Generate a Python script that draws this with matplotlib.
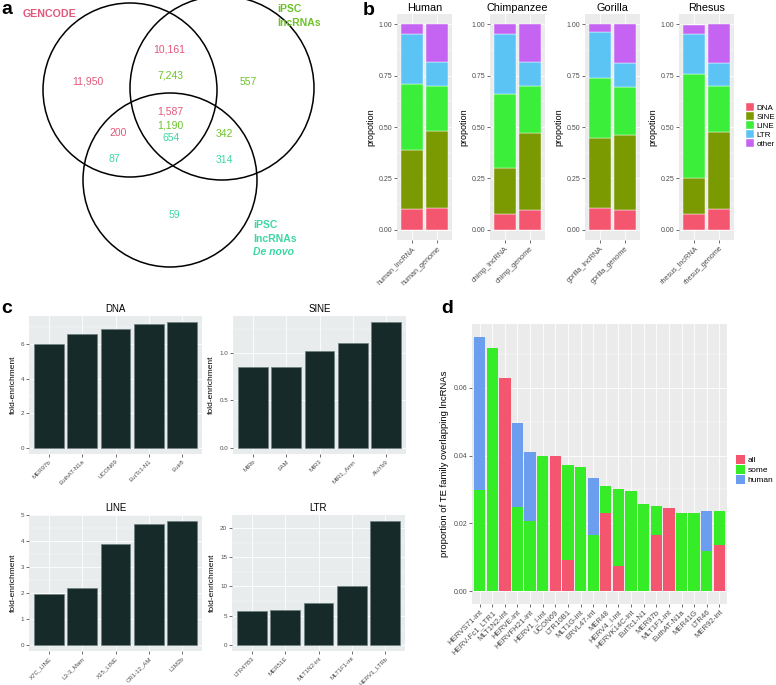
import matplotlib
matplotlib.use("Agg")
import matplotlib.pyplot as plt
from matplotlib.patches import Circle, Patch
from matplotlib.ticker import AutoMinorLocator
import numpy as np

W, H = 776, 685
plt.rcParams['font.family'] = ['Liberation Sans', 'DejaVu Sans']

# ---------------- panel a: venn counts
venn_counts = [11950, 10161, 7243, 557, 1587, 1190, 654, 200, 342, 87, 314, 59]
venn_groups = ["gencode", "gencode", "ipsc", "ipsc", "gencode", "ipsc", "denovo",
               "gencode", "ipsc", "denovo", "denovo", "denovo"]

# ---------------- panel b: TE class proportions (DNA, SINE, LINE, LTR, other)
species = ["Human", "Chimpanzee", "Gorilla", "Rhesus"]
sample_prefix = ["human", "chimp", "gorilla", "rhesus"]
te_classes = ["DNA", "SINE", "LINE", "LTR", "other"]
human_lncrna = [0.102, 0.285, 0.322, 0.242, 0.049]
human_genome = [0.106, 0.374, 0.220, 0.116, 0.184]
chimp_lncrna = [0.076, 0.226, 0.360, 0.291, 0.047]
chimp_genome = [0.098, 0.375, 0.226, 0.117, 0.184]
gorilla_lncrna = [0.106, 0.341, 0.293, 0.224, 0.036]
gorilla_genome = [0.098, 0.365, 0.233, 0.117, 0.187]
rhesus_lncrna = [0.075, 0.179, 0.504, 0.195, 0.042]
rhesus_genome = [0.101, 0.375, 0.223, 0.114, 0.187]

# ---------------- panel c: fold enrichment
dna_names = ["MER97b", "EuthAT-N1a", "UCON69", "EutTc1-N1", "Eutr8"]
dna_fold = [6.04, 6.58, 6.91, 7.18, 7.28]
sine_names = ["MIRb", "FAM", "MIR3", "MIR1_Amn", "AluYb9"]
sine_fold = [0.854, 0.854, 1.02, 1.10, 1.32]
line_names = ["X7C_LINE", "L3-3_Mam", "X15_LINE", "CR1-12_AM", "L1M2b"]
line_fold = [1.96, 2.18, 3.91, 4.69, 4.78]
ltr_names = ["LTR47B3", "MER51E", "MLT1N2-int", "MLT1F1-int", "HERV1_LTRb"]
ltr_fold = [5.8, 6.03, 7.1, 10.0, 21.2]

# ---------------- panel d: proportion of TE family overlapping lncRNAs
d_names = ["HERVS71-int", "HERV-Fc1_LTR1", "MLT1N2-int", "HERVE-int", "HERVFH21-int",
           "HERV1_I-int", "UCON69", "LTR10B1", "MLT1G-int", "ERVL47-int", "MER48",
           "HERV4_I-int", "HERVK14C-int", "EutTc1-N1", "MER97b", "MLT1F1-int",
           "EuthAT-N1a", "MER41G", "LTR46", "MER92-int"]
d_all = [0, 0, 0.0627, 0, 0, 0, 0.040, 0.0093, 0, 0, 0.0232, 0.0075, 0, 0,
         0.0167, 0.0244, 0, 0, 0, 0.0135]
d_some = [0.0299, 0.0718, 0, 0.0247, 0.0206, 0.040, 0, 0.0279, 0.0365, 0.0167,
          0.0078, 0.0227, 0.0294, 0.0257, 0.0084, 0, 0.0231, 0.0231, 0.0118, 0.0102]
d_human = [0.0451, 0, 0, 0.0248, 0.0203, 0, 0, 0, 0, 0.0168, 0, 0, 0, 0, 0, 0,
           0, 0, 0.0119, 0]

pink, green, teal = "#E2577A", "#6DC32A", "#3CD8A4"
venn_colors = {"gencode": pink, "ipsc": green, "denovo": teal}
te_colors = ["#F4566F", "#7B9A01", "#3BEE3A", "#5BC4F5", "#C564F2"]
d_colors = ["#F4566F", "#35EC27", "#6C9EF0"]

fig = plt.figure(figsize=(W / 100, H / 100), dpi=100)


def px_axes(x0, y0, x1, y1):
    return fig.add_axes([x0 / W, 1 - y1 / H, (x1 - x0) / W, (y1 - y0) / H])


def gg_style(ax, bg="#EBEBEB", fs=5):
    ax.set_facecolor(bg)
    for s in ax.spines.values():
        s.set_visible(False)
    ax.tick_params(length=2, width=0.5, color="#333333", labelcolor="#4D4D4D",
                   pad=1.5, labelsize=fs)
    ax.tick_params(which="minor", length=0)
    ax.yaxis.set_minor_locator(AutoMinorLocator(2))
    ax.grid(True, which="major", color="white", lw=0.6)
    ax.grid(True, which="minor", axis="y", color="white", lw=0.3)
    ax.set_axisbelow(True)


# ================= a: venn
ax = px_axes(0, 0, 360, 290)
ax.set_xlim(0, 360)
ax.set_ylim(290, 0)
ax.axis("off")
for c, r in [((130, 90), 87), ((222, 88), 92), ((170, 180), 87)]:
    ax.add_patch(Circle(c, r, fill=False, ec="black", lw=1.1))
venn_xy = [(88, 82), (169, 49), (170, 75), (248, 82), (170, 112), (170, 125),
           (171, 138), (118, 133), (224, 134), (114, 159), (224, 160), (174, 215)]
for v, g, (x, y) in zip(venn_counts, venn_groups, venn_xy):
    ax.text(x, y, f"{v:,}", color=venn_colors[g], fontsize=7.5, ha="center", va="center")
ax.text(23, 14, "GENCODE", color=pink, fontsize=7.7, fontweight="bold", va="center")
ax.text(277, 9, "iPSC", color=green, fontsize=7.5, fontweight="bold", va="center")
ax.text(277, 23, "lncRNAs", color=green, fontsize=7.5, fontweight="bold", va="center")
ax.text(253, 225, "iPSC", color=teal, fontsize=7.5, fontweight="bold", va="center")
ax.text(253, 239, "lncRNAs", color=teal, fontsize=7.5, fontweight="bold", va="center")
ax.text(253, 252, "De novo", color=teal, fontsize=7.5, fontweight="bold",
        style="italic", va="center")

# ================= b: stacked proportions
lnc_all = [human_lncrna, chimp_lncrna, gorilla_lncrna, rhesus_lncrna]
gen_all = [human_genome, chimp_genome, gorilla_genome, rhesus_genome]
b_left = [397, 490, 585, 679]
for i, sp in enumerate(species):
    ax = px_axes(b_left[i], 14, b_left[i] + 55, 240)
    gg_style(ax)
    bottom = np.zeros(2)
    for k in range(len(te_classes)):
        vals = np.array([lnc_all[i][k], gen_all[i][k]])
        ax.bar([0, 1], vals, bottom=bottom, width=0.9, color=te_colors[k],
               edgecolor="white", lw=0.3)
        bottom += vals
    ax.set_xlim(-0.6, 1.6)
    ax.set_ylim(-0.05, 1.05)
    ax.set_yticks([0, 0.25, 0.5, 0.75, 1.0])
    ax.set_yticklabels(["0.00", "0.25", "0.50", "0.75", "1.00"])
    ax.set_xticks([0, 1])
    ax.set_xticklabels([f"{sample_prefix[i]}_lncRNA", f"{sample_prefix[i]}_genome"],
                       rotation=45, ha="right", rotation_mode="anchor", fontsize=5.2)
    ax.set_ylabel("propotion", fontsize=6.5, labelpad=2)
    ax.set_title(sp, fontsize=7.8, pad=2.5)

handles = [Patch(facecolor=c, edgecolor="white", lw=0.3) for c in te_colors]
fig.legend(handles, te_classes, loc="upper left", bbox_to_anchor=(746 / W, 1 - 103 / H),
           frameon=False, fontsize=5.8, handlelength=1.0, handleheight=1.1,
           labelspacing=0.05, handletextpad=0.3, borderpad=0, borderaxespad=0)

# ================= c: fold enrichment bars
c_panels = [("DNA", dna_names, dna_fold, (29, 316, 202, 454), [0, 2, 4, 6], None),
            ("SINE", sine_names, sine_fold, (233, 316, 406, 454), [0, 0.5, 1.0],
             ["0.0", "0.5", "1.0"]),
            ("LINE", line_names, line_fold, (29, 515, 202, 651), [0, 1, 2, 3, 4, 5], None),
            ("LTR", ltr_names, ltr_fold, (232, 515, 405, 651), [0, 5, 10, 15, 20], None)]
for title, names, vals, box, ticks, tlabels in c_panels:
    ax = px_axes(*box)
    gg_style(ax, bg="#E8ECEC", fs=4.5)
    x = np.arange(len(names))
    ax.bar(x, vals, width=0.9, color="#172A2A", edgecolor="#6E7F7F", lw=0.5)
    ax.set_xlim(-0.6, len(names) - 0.4)
    ax.set_ylim(-0.05 * max(vals), 1.05 * max(vals))
    ax.set_yticks(ticks)
    if tlabels:
        ax.set_yticklabels(tlabels)
    ax.set_xticks(x)
    ax.set_xticklabels(names, rotation=45, ha="right", rotation_mode="anchor", fontsize=4.4)
    ax.set_ylabel("fold-enrichment", fontsize=6, labelpad=3)
    ax.set_title(title, fontsize=7, pad=3)

# ================= d: stacked TE family bars
ax = px_axes(472, 324, 727, 604)
gg_style(ax)
x = np.arange(len(d_names))
bottom = np.zeros(len(d_names))
for vals, col in zip([d_all, d_some, d_human], d_colors):
    vals = np.array(vals)
    ax.bar(x, vals, bottom=bottom, width=0.9, color=col, lw=0)
    bottom += vals
ax.set_xlim(-0.6, len(d_names) - 0.4)
ax.set_ylim(-0.05 * 0.075, 1.05 * 0.075)
ax.set_yticks([0, 0.02, 0.04, 0.06])
ax.set_yticklabels(["0.00", "0.02", "0.04", "0.06"])
ax.set_xticks(x)
ax.set_xticklabels(d_names, rotation=45, ha="right", rotation_mode="anchor", fontsize=5.6)
ax.set_ylabel("proportion of TE family overlapping lncRNAs", fontsize=6.8, labelpad=3)

handles = [Patch(facecolor=c) for c in d_colors]
fig.legend(handles, ["all", "some", "human"], loc="upper left",
           bbox_to_anchor=(736 / W, 1 - 455 / H), frameon=False, fontsize=6,
           handlelength=1.1, handleheight=1.3, labelspacing=0.05, handletextpad=0.3,
           borderpad=0, borderaxespad=0)

# panel letters
for lab, (x, y) in zip("abcd", [(1, 14), (363, 15), (1, 313), (441, 313)]):
    fig.text(x / W, 1 - y / H, lab, fontsize=14, fontweight="bold", va="baseline")

fig.savefig("out.png", dpi=100)
